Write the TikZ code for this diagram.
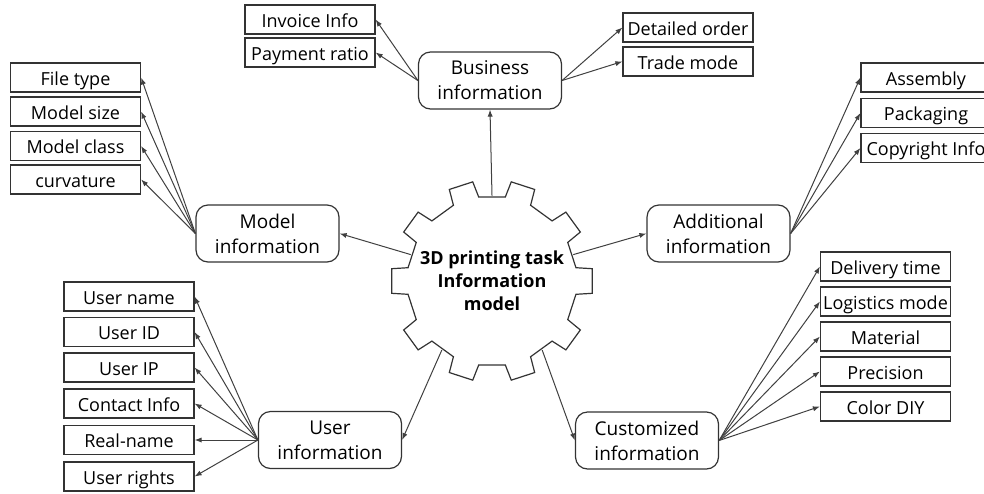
\documentclass[tikz,border=0pt]{standalone}
\usepackage{fontspec}
\setmainfont{Open Sans}
\usetikzlibrary{arrows.meta}

\begin{document}
\begin{tikzpicture}[x=0.5pt,y=-0.5pt,
    itembox/.style={draw=black!80, line width=0.6pt, minimum width=65pt, minimum height=14.5pt, inner sep=0pt, text height=7.6pt, text depth=0pt, font=\fontsize{9}{11}\selectfont},
    infobox/.style={draw=black!80, line width=0.6pt, rounded corners=6pt, minimum width=71.5pt, minimum height=28.5pt, inner sep=0pt, align=center, font=\fontsize{9.5}{12.5}\selectfont},
    link/.style={draw=black!75, line width=0.5pt, -{Latex[length=3.5pt,width=2.6pt]}}]
  \useasboundingbox (0,0) rectangle (984,493);

  \begin{scope}[shift={(492,281)}]
    \draw[draw=black!80, line width=0.6pt] (-9:85) \foreach \a in {0,36,...,324} { -- (\a-9:85) -- (\a-7:101) -- (\a+7:101) -- (\a+9:85) } -- cycle;
  \end{scope}
  \node[circle, minimum size=85pt, inner sep=0pt, align=center, font=\bfseries\fontsize{9}{11.5}\selectfont] (core) at (492,281) {3D printing task\\Information\\model};

  \node[infobox] (business) at (490,80.5) {Business\\information};
  \node[infobox] (model) at (267.5,233.5) {Model\\information};
  \node[infobox] (additional) at (718.5,233.5) {Additional\\information};
  \node[infobox] (user) at (330,440) {User\\information};
  \node[infobox] (custom) at (647,440.5) {Customized\\information};

  \node[itembox] (invoice) at (310,19.5) {Invoice Info};
  \node[itembox] (payment) at (310,52.5) {Payment ratio};
  \node[itembox] (order) at (688,27.5) {Detailed order};
  \node[itembox] (trade) at (688,61.5) {Trade mode};

  \node[itembox] (filetype) at (75.5,77.5) {File type};
  \node[itembox] (modelsize) at (75.5,111.5) {Model size};
  \node[itembox] (modelclass) at (75.5,146) {Model class};
  \node[itembox] (curvature) at (75.5,179.5) {curvature};

  \node[itembox] (assembly) at (926,77.5) {Assembly};
  \node[itembox] (packaging) at (926,113) {Packaging};
  \node[itembox] (copyright) at (926,148) {Copyright Info};

  \node[itembox] (delivery) at (885.5,266.5) {Delivery time};
  \node[itembox] (logistics) at (885.5,301.5) {Logistics mode};
  \node[itembox] (material) at (885.5,336.5) {Material};
  \node[itembox] (precision) at (885.5,371.5) {Precision};
  \node[itembox] (color) at (885.5,406.5) {Color DIY};

  \node[itembox] (username) at (129,296.5) {User name};
  \node[itembox] (userid) at (129,332) {User ID};
  \node[itembox] (userip) at (129,367.5) {User IP};
  \node[itembox] (contact) at (129,403.5) {Contact Info};
  \node[itembox] (realname) at (129,440) {Real-name};
  \node[itembox] (rights) at (129,476.5) {User rights};

  \draw[link] (core.90) -- (business.south);
  \draw[link] (core.162) -- (model.east);
  \draw[link] (core.18) -- (additional.west);
  \draw[link] (core.234) -- (user.east);
  \draw[link] (core.306) -- (custom.west);

  \foreach \n in {invoice,payment} \draw[link] (business.west) -- (\n.east);
  \foreach \n in {order,trade} \draw[link] (business.east) -- (\n.west);
  \foreach \n in {filetype,modelsize,modelclass,curvature} \draw[link] (model.west) -- (\n.east);
  \foreach \n in {assembly,packaging,copyright} \draw[link] (additional.east) -- (\n.west);
  \foreach \n in {delivery,logistics,material,precision,color} \draw[link] (custom.east) -- (\n.west);
  \foreach \n in {username,userid,userip,contact,realname,rights} \draw[link] (user.west) -- (\n.east);
\end{tikzpicture}
\end{document}
